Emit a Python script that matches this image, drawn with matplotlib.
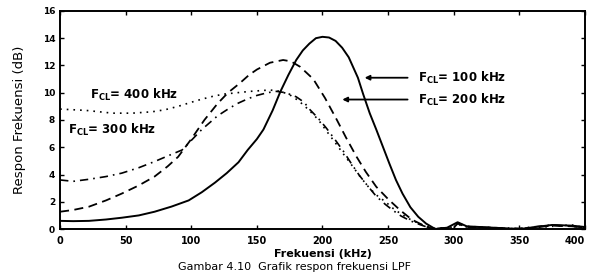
import numpy as np
import matplotlib.pyplot as plt

# frequency response curves (kHz, dB)
f_100 = [0, 10, 22, 35, 47, 60, 72, 85, 98, 108, 118, 127, 136, 143, 150, 155, 162, 168, 174, 180, 185, 190, 195,
         200, 205, 210, 215, 220, 227, 231, 236, 241, 246, 251, 256, 261, 267, 273, 279, 286,
         295, 303, 310, 330, 350, 375, 390, 400]
r_100 = [0.6, 0.58, 0.6, 0.7, 0.83, 1.0, 1.27, 1.65, 2.1, 2.7, 3.4, 4.1, 4.9, 5.8, 6.6, 7.3, 8.7, 10.1, 11.3, 12.4, 13.1, 13.6, 14.0,
         14.1, 14.05, 13.8, 13.3, 12.6, 11.1, 9.9, 8.5, 7.3, 6.05, 4.8, 3.6, 2.6, 1.6, 0.9, 0.4, 0.0,
         0.1, 0.5, 0.2, 0.1, 0.0, 0.3, 0.25, 0.15]

f_200 = [0, 10, 22, 35, 47, 60, 72, 82, 90, 100, 110, 120, 128, 137, 144, 150, 160, 170, 176, 183, 193,
         202, 211, 218, 226, 233, 241, 250, 259, 268, 279, 285,
         300, 303, 310, 330, 350, 375, 390, 400]
r_200 = [1.27, 1.4, 1.64, 2.1, 2.6, 3.2, 3.85, 4.6, 5.3, 6.6, 8.0, 9.2, 10.0, 10.7, 11.3, 11.7, 12.2, 12.4, 12.3, 11.9, 11.0,
         9.6, 8.0, 6.7, 5.3, 4.2, 3.1, 2.2, 1.4, 0.7, 0.17, 0.0,
         0.1, 0.4, 0.15, 0.1, 0.0, 0.25, 0.2, 0.1]

f_300 = [0, 10, 22, 35, 47, 60, 72, 83, 93, 100, 108, 120, 128, 135, 143, 150, 158, 165, 172, 180, 186, 190.5,
         197, 203, 210, 216, 222, 228, 235, 241, 248, 254, 260, 267, 275, 284,
         300, 303, 310, 330, 350, 375, 390, 400]
r_300 = [3.6, 3.5, 3.65, 3.85, 4.1, 4.5, 4.95, 5.4, 5.8, 6.5, 7.3, 8.3, 8.8, 9.2, 9.55, 9.8, 10.0, 10.1, 10.0, 9.7, 9.3, 8.75,
         8.1, 7.4, 6.5, 5.7, 4.8, 3.95, 3.1, 2.4, 1.8, 1.35, 0.95, 0.6, 0.3, 0.0,
         0.15, 0.45, 0.2, 0.1, 0.05, 0.3, 0.2, 0.1]

f_400 = [0, 20, 40, 55, 70, 80, 90, 100, 107, 117, 125, 135, 145, 160, 168, 175, 182, 190, 197, 203, 210,
         216, 223, 229, 235, 241, 248, 254, 260, 267, 275, 284,
         300, 303, 310, 330, 350, 375, 390, 400]
r_400 = [8.8, 8.7, 8.5, 8.5, 8.6, 8.75, 9.0, 9.3, 9.5, 9.75, 9.9, 10.0, 10.1, 10.2, 10.1, 9.85, 9.4, 8.7, 8.0, 7.2, 6.3,
         5.5, 4.6, 3.8, 3.1, 2.5, 2.0, 1.5, 1.1, 0.7, 0.35, 0.05,
         0.1, 0.35, 0.15, 0.05, 0.0, 0.2, 0.3, 0.1]

x_ticks = [0, 50, 100, 150, 200, 250, 300, 350, 400]
y_ticks = [0, 2, 4, 6, 8, 10, 12, 14, 16]

fig = plt.figure(figsize=(5.89, 2.73), dpi=100)
ax = fig.add_axes([0.102, 0.161, 0.891, 0.799])

ax.plot(f_100, r_100, color='black', lw=1.4, ls='-')
ax.plot(f_200, r_200, color='black', lw=1.3, ls=(0, (5, 3)))
ax.plot(f_300, r_300, color='black', lw=1.2, ls=(0, (5, 3, 1, 3)))
ax.plot(f_400, r_400, color='black', lw=1.2, ls=(0, (1, 3)))

ax.set_xlim(0, 400)
ax.set_ylim(0, 16)
ax.set_xticks(x_ticks)
ax.set_yticks(y_ticks)
ax.tick_params(direction='in', top=True, right=True, length=3, width=1)
ax.tick_params(axis='x', labelsize=7, pad=5)
ax.tick_params(axis='y', labelsize=6.5)
for lab in ax.get_xticklabels() + ax.get_yticklabels():
    lab.set_fontweight('bold')
ax.get_xticklabels()[-1].set_horizontalalignment('right')
for s in ax.spines.values():
    s.set_linewidth(1.4)

ax.set_xlabel('Frekuensi (kHz)', fontsize=8, fontweight='bold', labelpad=2)
ax.set_ylabel('Respon Frekuensi (dB)', fontsize=9.5, family=['Liberation Sans Narrow', 'DejaVu Sans'], labelpad=12)

kw = dict(fontsize=8.5, fontweight='bold', color='black')
ax.text(23, 9.8, r'F$_{\mathbf{CL}}$= 400 kHz', va='center', **kw)
ax.text(6, 7.3, r'F$_{\mathbf{CL}}$= 300 kHz', va='center', **kw)
ax.text(273, 11.1, r'F$_{\mathbf{CL}}$= 100 kHz', va='center', **kw)
ax.text(273, 9.5, r'F$_{\mathbf{CL}}$= 200 kHz', va='center', **kw)
ax.annotate('', xy=(230, 11.1), xytext=(267, 11.1),
            arrowprops=dict(arrowstyle='-|>', color='black', lw=1.3, mutation_scale=7))
ax.annotate('', xy=(213, 9.5), xytext=(267, 9.5),
            arrowprops=dict(arrowstyle='-|>', color='black', lw=1.3, mutation_scale=7))

fig.text(0.5, 0.004, 'Gambar 4.10  Grafik respon frekuensi LPF', ha='center', va='bottom', fontsize=8)

fig.savefig('out.png', dpi=100)
